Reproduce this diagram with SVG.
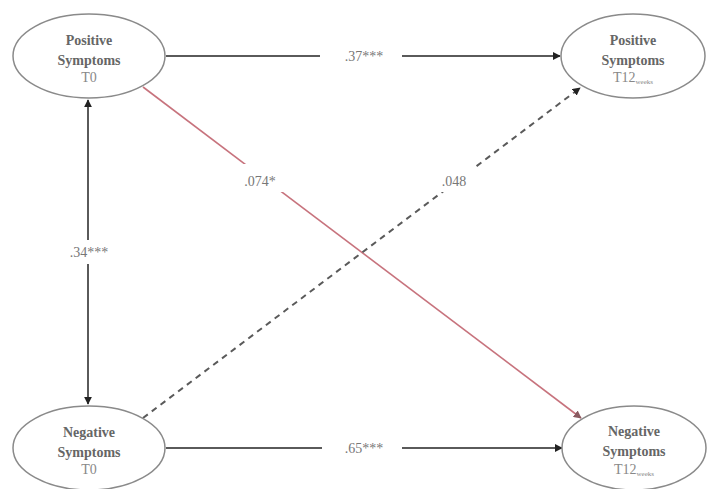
<svg xmlns="http://www.w3.org/2000/svg" width="707" height="489" viewBox="0 0 707 489">
<style>
.node ellipse{fill:#fff;stroke:#8a8a8a;stroke-width:1.5}
.nt{font-family:"Liberation Serif",serif;font-size:14px;font-weight:bold;fill:#666;text-anchor:middle}
.nt2{font-family:"Liberation Serif",serif;font-size:14px;fill:#888;text-anchor:middle}
.sub{font-size:7px}
.lbl{font-family:"Liberation Serif",serif;font-size:14px;fill:#777;text-anchor:middle}
.ln{stroke:#5a5a5a;stroke-width:2;fill:none}
.red{stroke:#c7737d;stroke-width:1.6;fill:none}
.dash{stroke:#5a5a5a;stroke-width:2;fill:none;stroke-dasharray:6,5}
.bg{fill:#fff}
</style>
<defs>
<marker id="ah" viewBox="0 0 10 10" refX="9" refY="5" markerWidth="4" markerHeight="4" orient="auto-start-reverse" markerUnits="strokeWidth">
<path d="M0,0 L10,5 L0,10 z" fill="#222"/>
</marker>
<marker id="ahr" viewBox="0 0 10 10" refX="9" refY="5" markerWidth="5" markerHeight="5" orient="auto" markerUnits="strokeWidth">
<path d="M0,0 L10,5 L0,10 z" fill="#8a5a60"/>
</marker>
</defs>
<rect width="707" height="489" fill="#fff"/>
<g id="connectors">
<line class="ln" x1="166" y1="56" x2="560" y2="56" marker-end="url(#ah)"/>
<line class="ln" x1="166" y1="448" x2="562" y2="448" marker-end="url(#ah)"/>
<line class="ln" x1="88" y1="100" x2="88" y2="404" marker-start="url(#ah)" marker-end="url(#ah)"/>
<line class="red" x1="143" y1="87" x2="581" y2="418" marker-end="url(#ahr)"/>
<line class="dash" x1="143" y1="418" x2="580" y2="88" marker-end="url(#ah)"/>
<rect class="bg" x="320" y="45" width="82" height="22"/>
<rect class="bg" x="322" y="437" width="80" height="22"/>
<rect class="bg" x="64" y="240" width="50" height="24"/>
<rect class="bg" x="238" y="164" width="46" height="28"/>
<rect class="bg" x="434" y="164" width="40" height="28"/>
<text class="lbl" x="364" y="61">.37***</text>
<text class="lbl" x="364" y="453">.65***</text>
<text class="lbl" x="89" y="257">.34***</text>
<text class="lbl" x="260" y="186">.074*</text>
<text class="lbl" x="454" y="186">.048</text>
</g>
<g id="pos_t0" class="node">
<ellipse cx="89" cy="56" rx="76" ry="42"/>
<text class="nt" x="89" y="45">Positive</text>
<text class="nt" x="89" y="65">Symptoms</text>
<text class="nt2" x="89" y="82">T0</text>
</g>
<g id="pos_t12" class="node">
<ellipse cx="633" cy="56" rx="72" ry="42"/>
<text class="nt" x="633" y="45">Positive</text>
<text class="nt" x="633" y="65">Symptoms</text>
<text class="nt2" x="633" y="82">T12<tspan class="sub" dy="2">weeks</tspan></text>
</g>
<g id="neg_t0" class="node">
<ellipse cx="89" cy="448" rx="76" ry="42"/>
<text class="nt" x="89" y="437">Negative</text>
<text class="nt" x="89" y="457">Symptoms</text>
<text class="nt2" x="89" y="474">T0</text>
</g>
<g id="neg_t12" class="node">
<ellipse cx="634" cy="448" rx="72" ry="42"/>
<text class="nt" x="634" y="436">Negative</text>
<text class="nt" x="634" y="456">Symptoms</text>
<text class="nt2" x="634" y="474">T12<tspan class="sub" dy="2">weeks</tspan></text>
</g>
</svg>
